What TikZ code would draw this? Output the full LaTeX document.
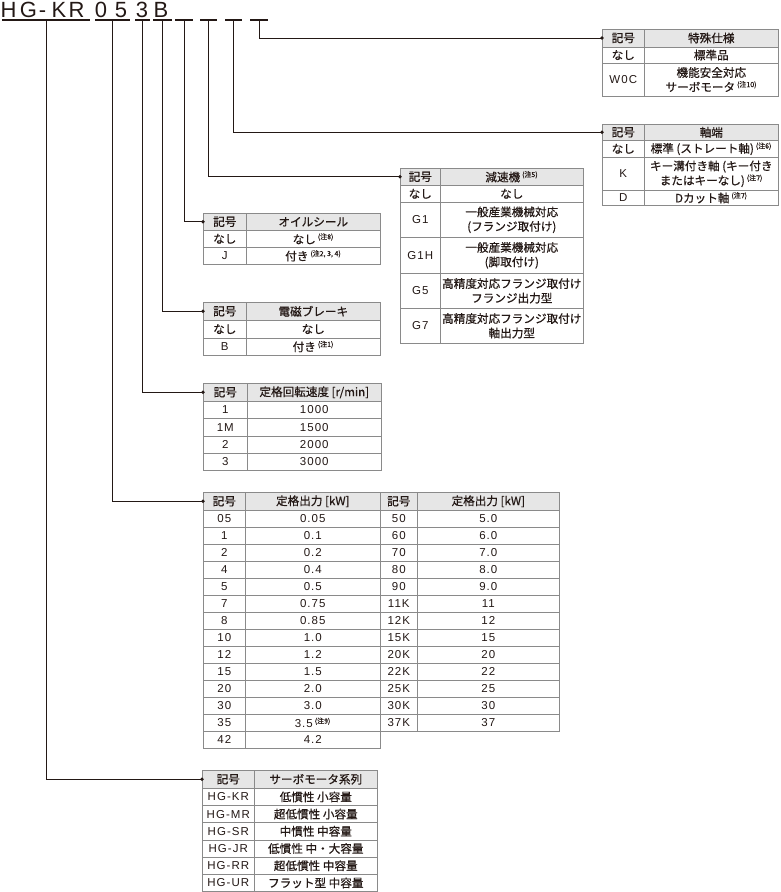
\documentclass[tikz,border=0pt]{standalone}
\usepackage{fontspec}
\usepackage{tikz}
\setmainfont{Liberation Sans}[LetterSpace=9]
\newfontfamily\titlefont{Liberation Sans}
\newfontfamily\jpfont{Noto Sans CJK JP}[FakeBold=0.6]
\newcommand{\jp}{\jpfont\fontsize{11.6}{14.5}\selectfont}
\newcommand{\chu}[1]{\,\textsuperscript{\jpfont\fontsize{7}{7}\selectfont(注#1)}}
\definecolor{ink}{HTML}{231815}
\definecolor{rule}{HTML}{8A8A8A}
\definecolor{headfill}{HTML}{E6E6E6}

\begin{document}
\begin{tikzpicture}[x=1pt,y=-1pt,
  cell/.style={draw=rule, line width=0.6pt, anchor=north west, inner sep=0pt,
    align=center, text=ink, font=\fontsize{11.5}{14.5}\selectfont},
  jcell/.style={cell, font=\jp},
  head/.style={jcell, fill=headfill, minimum height=#1},
  link/.style={draw=ink, line width=0.8pt}]
\useasboundingbox (0,0) rectangle (780,892);
% model code
\foreach \ch/\cx [count=\i] in {H/8.5, G/28.5, -/42.5, K/59, R/76.5, 0/101, 5/121, 3/142, B/161}
  \node[anchor=base, inner sep=0pt, text=ink, font=\titlefont\fontsize{22}{22}\selectfont] (ch\i) at (\cx,17) {\ch};
% underlines, one per field
\foreach \a/\b [count=\i] in {2/90, 95/130, 135/150, 153/172, 175/193, 200/217, 225/242, 250/268} {
  \draw[ink, line width=1.2pt] (\a,20) -- (\b,20);
  \coordinate (u\i) at ({(\a+\b)/2},20);
}
% special spec
\node[head=17.5pt, minimum width=42pt] (spc0) at (602,29) {記号};
\node[head=17.5pt, minimum width=134pt] (spv0) at (644,29) {特殊仕様};
\foreach \y/\h/\c/\v [count=\i] in {46.5/16.5/{\jp なし}/{標準品},
    63/32.5/W0C/{機能安全対応\\サーボモータ\chu{10}}} {
  \node[cell, minimum width=42pt, minimum height=\h pt] (spc\i) at (602,\y) {\c};
  \node[jcell, minimum width=134pt, minimum height=\h pt] (spv\i) at (644,\y) {\v};
}
% shaft end
\node[head=16pt, minimum width=42pt] (shc0) at (602,124) {記号};
\node[head=16pt, minimum width=134pt] (shv0) at (644,124) {軸端};
\foreach \y/\h/\c/\v [count=\i] in {140/17/{\jp なし}/{標準 (ストレート軸)\chu{6}},
    157/33/K/{キー溝付き軸 (キー付き\\またはキーなし)\chu{7}},
    190/15/D/{Dカット軸\chu{7}}} {
  \node[cell, minimum width=42pt, minimum height=\h pt] (shc\i) at (602,\y) {\c};
  \node[jcell, minimum width=134pt, minimum height=\h pt] (shv\i) at (644,\y) {\v};
}
% gear reducer
\node[head=17pt, minimum width=40pt] (grc0) at (400,168) {記号};
\node[head=17pt, minimum width=143pt] (grv0) at (440,168) {減速機\chu{5}};
\foreach \y/\h/\c/\v [count=\i] in {185/17/{\jp なし}/{なし},
    202/35/G1/{一般産業機械対応\\(フランジ取付け)},
    237/36/G1H/{一般産業機械対応\\(脚取付け)},
    273/35/G5/{高精度対応フランジ取付け\\フランジ出力型},
    308/35/G7/{高精度対応フランジ取付け\\軸出力型}} {
  \node[cell, minimum width=40pt, minimum height=\h pt] (grc\i) at (400,\y) {\c};
  \node[jcell, minimum width=143pt, minimum height=\h pt] (grv\i) at (440,\y) {\v};
}
% oil seal
\node[head=17pt, minimum width=43pt] (osc0) at (203,213) {記号};
\node[head=17pt, minimum width=134pt] (osv0) at (246,213) {オイルシール};
\foreach \c/\v [count=\i] in {{\jp なし}/{なし\chu{8}}, J/{付き\chu{2, 3, 4}}} {
  \node[cell, minimum width=43pt, minimum height=17pt] (osc\i) at (203,{213+17*\i}) {\c};
  \node[jcell, minimum width=134pt, minimum height=17pt] (osv\i) at (246,{213+17*\i}) {\v};
}
% brake
\node[head=18pt, minimum width=43pt] (brc0) at (203,302) {記号};
\node[head=18pt, minimum width=134pt] (brv0) at (246,302) {電磁ブレーキ};
\foreach \c/\v [count=\i] in {{\jp なし}/{なし}, B/{付き\chu{1}}} {
  \node[cell, minimum width=43pt, minimum height=17.5pt] (brc\i) at (203,{302.5+17.5*\i}) {\c};
  \node[jcell, minimum width=134pt, minimum height=17.5pt] (brv\i) at (246,{302.5+17.5*\i}) {\v};
}
% rated speed
\node[head=18pt, minimum width=44pt] (rsc0) at (203,383) {記号};
\node[head=18pt, minimum width=134pt] (rsv0) at (247,383) {定格回転速度 [r/min]};
\foreach \c/\v [count=\i] in {1/1000, 1M/1500, 2/2000, 3/3000} {
  \node[cell, minimum width=44pt, minimum height=17.25pt] (rsc\i) at (203,{383.75+17.25*\i}) {\c};
  \node[cell, minimum width=134pt, minimum height=17.25pt] (rsv\i) at (247,{383.75+17.25*\i}) {\v};
}
% rated output
\node[head=18pt, minimum width=42pt] (kwc0) at (203,492) {記号};
\node[head=18pt, minimum width=135pt] (kwv0) at (245,492) {定格出力 [kW]};
\node[head=18pt, minimum width=37pt] (kxc0) at (380,492) {記号};
\node[head=18pt, minimum width=142pt] (kxv0) at (417,492) {定格出力 [kW]};
\foreach \c/\v [count=\i] in {05/0.05, 1/0.1, 2/0.2, 4/0.4, 5/0.5, 7/0.75, 8/0.85,
    10/1.0, 12/1.2, 15/1.5, 20/2.0, 30/3.0, 35/{3.5\chu{9}}, 42/4.2} {
  \node[cell, minimum width=42pt, minimum height=17pt] (kwc\i) at (203,{493+17*\i}) {\c};
  \node[cell, minimum width=135pt, minimum height=17pt] (kwv\i) at (245,{493+17*\i}) {\v};
}
\foreach \c/\v [count=\i] in {50/5.0, 60/6.0, 70/7.0, 80/8.0, 90/9.0, 11K/11, 12K/12,
    15K/15, 20K/20, 22K/22, 25K/25, 30K/30, 37K/37} {
  \node[cell, minimum width=37pt, minimum height=17pt] (kxc\i) at (380,{493+17*\i}) {\c};
  \node[cell, minimum width=142pt, minimum height=17pt] (kxv\i) at (417,{493+17*\i}) {\v};
}
% motor series
\node[head=18pt, minimum width=52pt] (src0) at (202,770) {記号};
\node[head=18pt, minimum width=123pt] (srv0) at (254,770) {サーボモータ系列};
\foreach \c/\v [count=\i] in {HG-KR/低慣性 小容量, HG-MR/超低慣性 小容量, HG-SR/中慣性 中容量,
    HG-JR/低慣性 中・大容量, HG-RR/超低慣性 中容量, HG-UR/フラット型 中容量} {
  \node[cell, minimum width=52pt, minimum height=17.2pt] (src\i) at (202,{770.8+17.2*\i}) {\c};
  \node[jcell, minimum width=123pt, minimum height=17.2pt] (srv\i) at (254,{770.8+17.2*\i}) {\v};
}
% leaders from code to tables
\foreach \u/\t in {u8/spc0, u7/shc0, u6/grc0, u5/osc0, u4/brc0, u3/rsc0, u2/kwc0, u1/src0} {
  \draw[link] (\u) |- (\t.west);
  \fill[ink] (\t.west) circle (1.9pt);
}
\end{tikzpicture}
\end{document}
